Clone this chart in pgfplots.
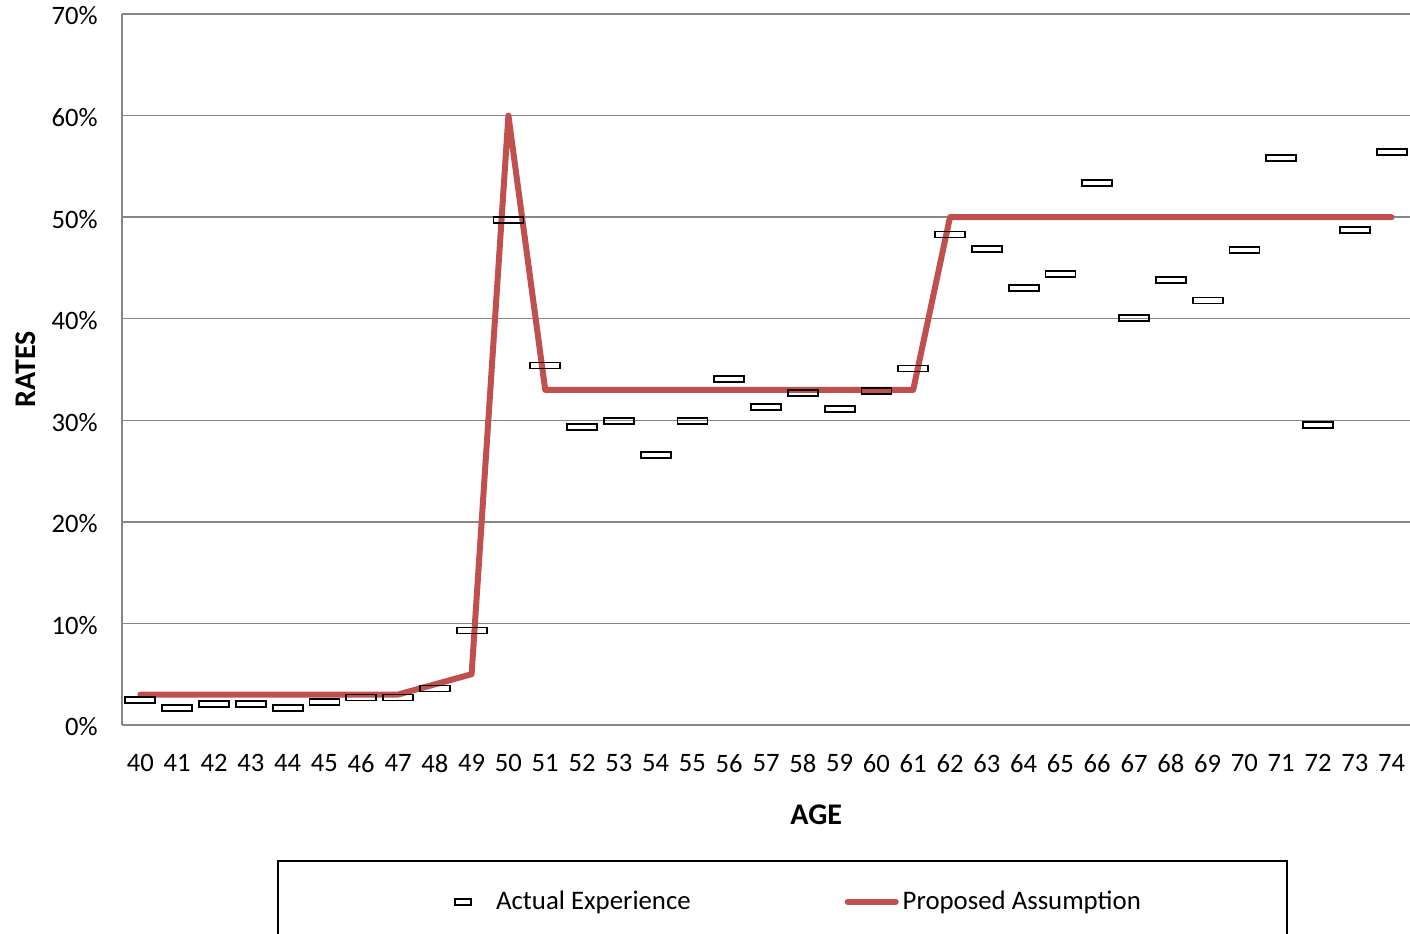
\documentclass[border=0pt]{standalone}
\usepackage{fontspec}
\setmainfont{Carlito}
\usepackage{pgfplots}
\usepackage{pgfplotstable}
\pgfplotsset{compat=1.18}

\definecolor{propred}{RGB}{192,80,77}
\definecolor{gridgray}{RGB}{134,134,134}

% hollow dash-shaped marker for observed rates
\pgfdeclareplotmark{dashbox}{%
  \pgfpathrectangle{\pgfqpoint{-7.5pt}{-1.5pt}}{\pgfqpoint{15pt}{3pt}}%
  \pgfusepathqstroke}

\pgfplotstableread{
age rate
40 2.5
41 1.7
42 2.1
43 2.1
44 1.7
45 2.3
46 2.7
47 2.7
48 3.6
49 9.3
50 49.7
51 35.4
52 29.3
53 29.9
54 26.6
55 29.9
56 34.1
57 31.3
58 32.7
59 31.1
60 32.9
61 35.1
62 48.3
63 46.9
64 43.0
65 44.4
66 53.4
67 40.1
68 43.8
69 41.8
70 46.8
71 55.8
72 29.5
73 48.7
74 56.4
}\actual

\pgfplotstableread{
age rate
40 3
41 3
42 3
43 3
44 3
45 3
46 3
47 3
48 4
49 5
50 60
51 33
52 33
53 33
54 33
55 33
56 33
57 33
58 33
59 33
60 33
61 33
62 50
63 50
64 50
65 50
66 50
67 50
68 50
69 50
70 50
71 50
72 50
73 50
74 50
}\proposed

\begin{document}
\begin{tikzpicture}
\begin{axis}[
  name=ax,
  width=644pt, height=355.5pt, scale only axis,
  xmin=39.5, xmax=74.5, ymin=0, ymax=70,
  axis x line*=bottom, axis y line*=left,
  axis line style={gridgray, line width=0.75pt},
  ymajorgrids, grid style={gridgray, line width=0.75pt},
  xtick={40,...,74}, ytick={0,10,...,70},
  yticklabels={0\%,10\%,20\%,30\%,40\%,50\%,60\%,70\%},
  major tick length=0pt,
  tick label style={font=\fontsize{13.3}{15}\selectfont},
  /pgf/number format/assume math mode=true,
  yticklabel style={anchor=east, inner sep=0pt, xshift=-12pt, yshift=-1pt},
  xticklabel style={anchor=north, inner sep=0pt, yshift=-14.5pt},
  xlabel={AGE}, ylabel={RATES},
  label style={font=\fontsize{15}{18}\selectfont\bfseries},
  xlabel style={at={(axis description cs:0.539,-0.1266)}, anchor=center},
  ylabel style={at={(axis description cs:-0.0745,0.5)}, anchor=center},
  legend columns=2, reverse legend,
  legend style={at={(axis description cs:0.5128,-0.19)}, anchor=north,
    draw=black, line width=0.75pt, inner xsep=71pt, inner ysep=13pt,
    font=\fontsize{13.4}{15}\selectfont,
    /tikz/every even column/.append style={column sep=75pt}},
  legend cell align=left,
]
\addplot[propred, line width=3pt, line join=round, line cap=round,
  legend image code/.code={%
    \draw[propred, line width=3pt, line cap=round] (1.5pt,0pt) -- (25.5pt,0pt);}]
  table[x=age, y=rate] {\proposed};
\addlegendentry{Proposed Assumption}

\addplot[only marks, mark=dashbox, mark options={black, line width=0.9pt, fill=none},
  legend image code/.code={%
    \path[draw=none] (-9pt,0pt) -- (27pt,0pt);
    \draw[black, line width=0.9pt] (8.5pt,-1.5pt) rectangle (16.5pt,1.5pt);}]
  table[x=age, y=rate] {\actual};
\addlegendentry{Actual Experience}
\end{axis}
\pgfresetboundingbox
\path[use as bounding box] ([shift={(-61pt,-104.5pt)}]ax.south west) rectangle ([shift={(0pt,7pt)}]ax.north east);
\end{tikzpicture}
\end{document}
